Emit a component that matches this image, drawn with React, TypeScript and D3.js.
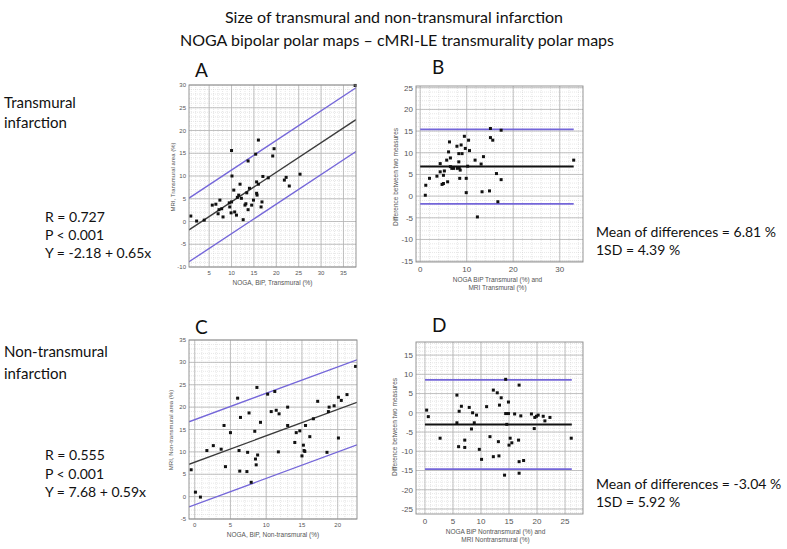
import React from 'react';
import * as d3 from 'd3';

// scatter: NOGA BiP (x) vs MRI (y), transmural
const transmuralPoints: [number, number][] = [
  [0.9, 1.2], [2.2, 0.1], [3.9, 0.3], [5.7, 3.6], [6.5, 3.8], [7.2, 2.6], [7.4, 4.7], [7.0, 1.7],
  [7.8, 2.8], [8.1, 1.0], [9.6, 3.2], [9.5, 4.1], [9.9, 1.9], [10.0, 15.6], [10.1, 10.0], [10.0, 4.3],
  [10.5, 6.9], [10.7, 2.1], [11.1, 1.4], [11.3, 5.3], [11.6, 5.8], [11.9, 8.2], [12.2, 5.1], [12.6, 0.4],
  [13.0, 3.6], [13.2, 3.9], [13.4, 6.3], [13.7, 13.3], [13.7, 2.6], [14.0, 7.3], [14.5, 3.6], [14.9, 4.7],
  [15.4, 14.8], [15.6, 8.7], [15.6, 6.2], [15.7, 5.8], [16.0, 17.9], [16.0, 8.2], [16.6, 3.2], [16.8, 4.3],
  [17.0, 9.9], [18.2, 9.6], [19.2, 14.4], [19.5, 16.0], [21.8, 9.1], [22.2, 9.7], [22.9, 7.8], [25.3, 10.4],
  [37.6, 29.9],
];

// Bland-Altman: mean of two measures (x) vs difference (y), transmural
const transmuralDiffs: [number, number][] = [
  [1.1, 0.2], [1.2, 2.5], [2.0, 4.1], [3.6, 4.6], [4.3, 7.5], [4.3, 5.6], [4.7, 2.7], [5.0, 2.9],
  [5.0, 4.8], [5.2, 5.8], [5.7, 8.3], [5.9, 3.3], [6.1, 10.2], [6.3, 12.5], [6.5, 8.8], [6.5, 6.8],
  [6.8, 6.4], [7.2, 6.4], [7.9, 11.5], [8.0, 6.4], [8.3, 9.8], [8.3, 7.9], [8.4, 6.6], [8.5, 4.1],
  [8.6, 6.0], [8.8, 11.8], [9.0, 9.8], [9.5, 13.8], [9.7, 11.0], [9.9, 4.1], [9.9, 0.8], [10.2, 6.9],
  [10.4, 12.9], [10.6, 10.5], [11.8, 8.3], [12.3, -4.8], [13.1, 7.4], [13.3, 1.0], [13.6, 9.1], [14.9, 1.2],
  [15.1, 15.6], [15.1, 13.5], [15.6, 12.9], [16.4, 5.2], [16.7, -1.3], [17.4, 15.2], [17.4, 3.8], [33.0, 8.3],
];

// scatter, non-transmural
const nonTransmuralPoints: [number, number][] = [
  [-0.5, 6.0], [0.1, 1.0], [0.8, -0.1], [1.7, 10.3], [2.6, 11.4], [3.7, 10.6], [4.1, 15.9], [4.3, 6.7],
  [5.0, 14.3], [6.0, 22.0], [6.2, 10.3], [6.3, 5.7], [6.4, 17.7], [7.3, 5.6], [7.4, 9.9], [7.6, 18.7],
  [7.9, 3.2], [8.4, 14.6], [8.5, 8.4], [8.6, 7.1], [8.7, 24.4], [8.8, 9.3], [9.2, 16.6], [10.2, 22.9],
  [10.7, 19.0], [11.2, 23.5], [11.4, 19.3], [11.8, 18.5], [11.7, 10.0], [13.0, 20.0], [13.0, 15.9], [14.0, 12.1],
  [14.2, 14.3], [14.7, 14.7], [15.0, 9.1], [15.2, 11.5], [15.3, 10.3], [15.4, 10.1], [15.5, 15.9], [16.1, 13.4],
  [16.6, 17.4], [17.2, 21.3], [18.5, 9.9], [18.7, 19.0], [18.8, 20.0], [19.5, 20.3], [20.1, 22.2], [20.1, 13.1],
  [20.5, 21.5], [21.3, 22.8], [22.5, 29.1],
];

// Bland-Altman, non-transmural
const nonTransmuralDiffs: [number, number][] = [
  [0.3, 0.7], [0.6, -1.0], [2.7, -6.6], [5.7, 4.6], [5.7, -2.6], [6.0, -8.8], [6.1, 0.4], [6.5, 1.7],
  [7.1, -7.1], [7.1, -9.0], [7.9, 1.4], [8.3, -4.2], [8.5, 0.0], [8.8, -2.6], [9.2, -0.6], [9.7, -9.5],
  [10.1, -12.1], [11.0, 1.6], [11.6, -6.2], [12.2, 5.9], [12.2, -11.4], [12.9, 5.2], [13.1, -7.5], [13.2, -11.2],
  [13.3, 2.0], [13.6, 3.9], [14.2, -16.2], [14.4, 8.7], [14.4, -0.2], [14.6, -3.0], [14.9, 2.8], [14.9, -0.2],
  [15.0, -8.4], [15.2, -6.6], [15.5, -7.8], [16.0, -0.3], [16.7, -7.1], [16.8, 7.2], [16.8, -12.7], [16.8, -15.7],
  [17.1, -0.8], [17.6, -12.4], [19.0, -0.3], [19.5, -4.1], [19.6, -1.2], [19.9, -0.9], [20.2, -0.6], [21.1, -0.9],
  [21.4, -2.1], [22.3, -1.2], [26.1, -6.6],
];

// regression: intercept, slope, band half-width
const transmuralFit = [-2.18, 0.65, 7.0];
const nonTransmuralFit = [7.68, 0.59, 9.5];
// Bland-Altman: mean difference, SD
const transmuralBA = [6.81, 4.39];
const nonTransmuralBA = [-3.04, 5.92];

const ticksA_x = [5, 10, 15, 20, 25, 30, 35];
const ticksA_y = [-10, -5, 0, 5, 10, 15, 20, 25, 30];
const ticksB_x = [0, 10, 20, 30];
const ticksB_y = [-15, -10, -5, 0, 5, 10, 15, 20, 25];
const ticksC_x = [0, 5, 10, 15, 20];
const ticksC_y = [-5, 0, 5, 10, 15, 20, 25, 30, 35];
const ticksD_x = [0, 5, 10, 15, 20, 25];
const ticksD_y = [-25, -20, -15, -10, -5, 0, 5, 10, 15];

const BLUE = '#7466d9';
const MAIN_FONT = 'Lato, "Open Sans", sans-serif';
const SMALL_FONT = '"Liberation Sans", Arial, sans-serif';

function Panel(props) {
  const {id, box, xDomain, yDomain, xTicks, yTicks, xMinor, yMinor, points, fit, ba, baSpan,
    letter, letterPos, xLabel, yLabel, yLabelPos, tickSize} = props;
  const x = d3.scaleLinear().domain(xDomain).range([box.left, box.right]);
  const y = d3.scaleLinear().domain(yDomain).range([box.bottom, box.top]);
  const minorX = d3.range(Math.ceil(xDomain[0] / xMinor) * xMinor, xDomain[1], xMinor);
  const minorY = d3.range(Math.ceil(yDomain[0] / yMinor) * yMinor, yDomain[1], yMinor);
  const line = d3.line<[number, number]>().x(d => x(d[0])).y(d => y(d[1]));

  let lines: {d: string, color: string, w: number}[] = [];
  if (fit) {
    const [a, b, band] = fit;
    const ends = xDomain;
    lines.push({d: line(ends.map(v => [v, a + b * v + band])), color: BLUE, w: 1.4});
    lines.push({d: line(ends.map(v => [v, a + b * v - band])), color: BLUE, w: 1.4});
    lines.push({d: line(ends.map(v => [v, a + b * v])), color: '#3a3a3a', w: 1.4});
  }
  if (ba) {
    const [m, sd] = ba;
    lines.push({d: line(baSpan.map(v => [v, m + 1.96 * sd])), color: BLUE, w: 1.8});
    lines.push({d: line(baSpan.map(v => [v, m - 1.96 * sd])), color: BLUE, w: 1.8});
    lines.push({d: line(baSpan.map(v => [v, m])), color: '#111', w: 2});
  }

  return (
    <g>
      <defs>
        <clipPath id={'clip-' + id}>
          <rect x={box.left} y={box.top} width={box.right - box.left} height={box.bottom - box.top}/>
        </clipPath>
      </defs>
      <rect x={box.left} y={box.top} width={box.right - box.left} height={box.bottom - box.top} fill="#fff"/>
      {minorX.map(v => <line key={'mx' + v} x1={x(v)} x2={x(v)} y1={box.top} y2={box.bottom}
        stroke="#cfcfcf" strokeWidth={0.5} strokeDasharray="1,1"/>)}
      {minorY.map(v => <line key={'my' + v} y1={y(v)} y2={y(v)} x1={box.left} x2={box.right}
        stroke="#cfcfcf" strokeWidth={0.5} strokeDasharray="1,1"/>)}
      {xTicks.map(v => <line key={'gx' + v} x1={x(v)} x2={x(v)} y1={box.top} y2={box.bottom}
        stroke="#b4b4b4" strokeWidth={0.8}/>)}
      {yTicks.map(v => <line key={'gy' + v} y1={y(v)} y2={y(v)} x1={box.left} x2={box.right}
        stroke="#b4b4b4" strokeWidth={0.8}/>)}
      <g clipPath={`url(#clip-${id})`}>
        {lines.map((l, i) => <path key={i} d={l.d} stroke={l.color} strokeWidth={l.w} fill="none"/>)}
      </g>
      {points.map((p, i) => <rect key={i} x={x(p[0]) - 1.5} y={y(p[1]) - 1.5} width={3} height={3} fill="#111"/>)}
      <rect x={box.left} y={box.top} width={box.right - box.left} height={box.bottom - box.top}
        fill="none" stroke="#8a8a8a" strokeWidth={0.9}/>
      <g fontFamily={SMALL_FONT} fontSize={tickSize} fill="#555">
        {xTicks.map(v => <text key={'tx' + v} x={x(v)} y={box.bottom + tickSize + 2} textAnchor="middle">{v}</text>)}
        {yTicks.map(v => <text key={'ty' + v} x={box.left - 3} y={y(v)} dy="0.35em" textAnchor="end">{v}</text>)}
      </g>
      <g fontFamily={SMALL_FONT} fontSize={6.5} fill="#555" textAnchor="middle">
        {xLabel.map((t, i) => <text key={t} x={(box.left + box.right) / 2 + (props.xLabelShift || 0)}
          y={box.bottom + tickSize + 12 + i * 8}>{t}</text>)}
        <text transform={`translate(${yLabelPos[0]},${yLabelPos[1]}) rotate(-90)`} dy="0.35em"
          fontSize={props.yLabelSize}>{yLabel}</text>
      </g>
      <text x={letterPos[0]} y={letterPos[1]} fontFamily={MAIN_FONT} fontSize={19} fill="#111">{letter}</text>
    </g>
  );
}

export default function App() {
  const textLines = (lines: string[], x: number, y0: number, step: number, size: number) =>
    lines.map((t, i) => <text key={t} x={x} y={y0 + i * step} fontSize={size}>{t}</text>);

  return (
    <svg width={787} height={549} style={{position: 'absolute', left: 0, top: 0, background: '#fff'}}>
      <g fontFamily={MAIN_FONT} fill="#111" textAnchor="middle" fontSize={16}>
        <text x={394} y={23}>Size of transmural and non-transmural infarction</text>
        <text x={397} y={46}>NOGA bipolar polar maps – cMRI-LE transmurality polar maps</text>
      </g>
      <g fontFamily={MAIN_FONT} fill="#111">
        {textLines(['Transmural', 'infarction'], 4, 108, 20, 15)}
        {textLines(['R = 0.727', 'P < 0.001', 'Y = -2.18 + 0.65x'], 45, 222, 18, 14)}
        {textLines(['Non-transmural', 'infarction'], 4, 357, 22, 15)}
        {textLines(['R = 0.555', 'P < 0.001', 'Y = 7.68 + 0.59x'], 45, 460, 18.5, 14)}
        {textLines(['Mean of differences = 6.81 %', '1SD = 4.39 %'], 596, 237, 18, 14)}
        {textLines(['Mean of differences = -3.04 %', '1SD = 5.92 %'], 596, 489, 18, 14)}
      </g>
      <Panel id="a" box={{left: 189, top: 85, right: 356, bottom: 267}} xDomain={[0.5, 37.8]} yDomain={[-10, 30]}
        xTicks={ticksA_x} yTicks={ticksA_y} xMinor={1} yMinor={1} points={transmuralPoints} fit={transmuralFit}
        letter="A" letterPos={[195, 77]} xLabel={['NOGA, BiP, Transmural (%)']} yLabel="MRI, Transmural area (%)"
        yLabelPos={[173, 177]} yLabelSize={6} tickSize={6}/>
      <Panel id="b" box={{left: 416, top: 86, right: 583, bottom: 262}} xDomain={[-0.9, 35]} yDomain={[-15.2, 25.4]}
        xTicks={ticksB_x} yTicks={ticksB_y} xMinor={2} yMinor={1} points={transmuralDiffs} ba={transmuralBA}
        baSpan={[0, 33]} letter="B" letterPos={[432, 74]}
        xLabel={['NOGA BiP Transmural (%) and', 'MRI Transmural (%)']} xLabelShift={-2}
        yLabel="Difference between two measures" yLabelPos={[396, 177]} yLabelSize={6.5} tickSize={8}/>
      <Panel id="c" box={{left: 189, top: 340, right: 357, bottom: 519}} xDomain={[-0.8, 22.7]} yDomain={[-5, 35]}
        xTicks={ticksC_x} yTicks={ticksC_y} xMinor={1} yMinor={1} points={nonTransmuralPoints} fit={nonTransmuralFit}
        letter="C" letterPos={[195, 334]} xLabel={['NOGA, BiP, Non-transmural (%)']}
        yLabel="MRI, Non-transmural area (%)" yLabelPos={[171, 430]} yLabelSize={6} tickSize={6}/>
      <Panel id="d" box={{left: 416, top: 342, right: 583, bottom: 514}} xDomain={[-1.6, 28.2]} yDomain={[-26.3, 18.4]}
        xTicks={ticksD_x} yTicks={ticksD_y} xMinor={1} yMinor={1} points={nonTransmuralDiffs} ba={nonTransmuralBA}
        baSpan={[0, 26.2]} letter="D" letterPos={[432, 332]}
        xLabel={['NOGA BiP Nontransmural (%) and', 'MRI Nontransmural (%)']} xLabelShift={-4}
        yLabel="Difference between two measures" yLabelPos={[395, 427]} yLabelSize={6.5} tickSize={8}/>
    </svg>
  );
}
